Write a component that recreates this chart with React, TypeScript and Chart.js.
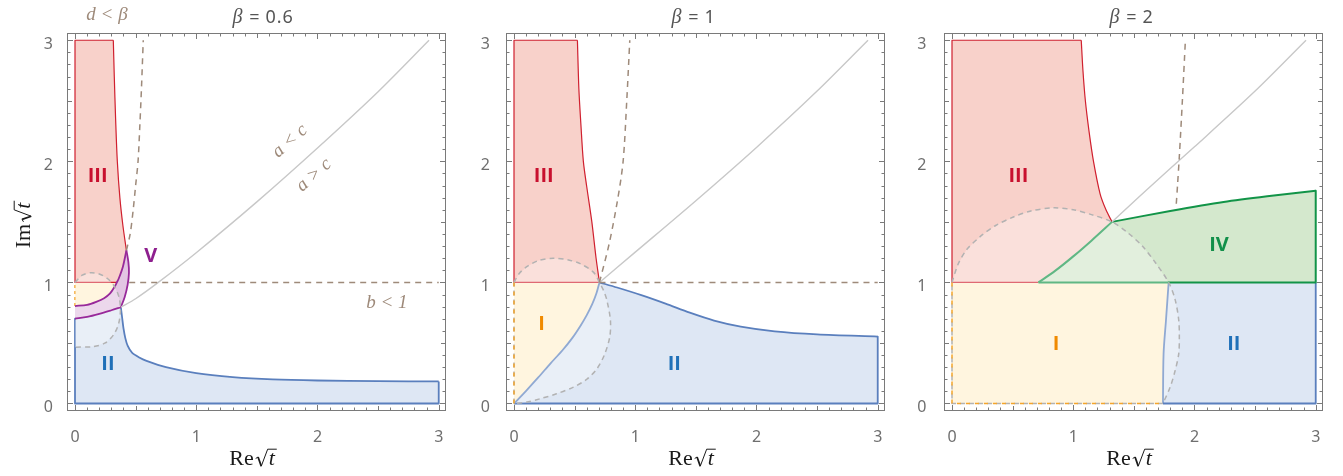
import React, { useEffect, useRef } from 'react';
import { Chart, registerables } from 'chart.js';

Chart.register(...registerables);

type Pt = [number, number];

const PAGE_W = 1343;
const PAGE_H = 476;

// shared axis window (a little padding around 0..3)
const X_MIN = -0.066;
const X_MAX = 3.06;
const Y_MIN = -0.062;
const Y_MAX = 3.06;
const tickValues = [0, 1, 2, 3];
const tickLabels = ['0', '1', '2', '3'];
const betaLabels = ['0.6', '1', '2'];

// ---------- β = 0.6 ----------
const b06IIIEdge: Pt[] = [[0.316, 3], [0.324, 2.7], [0.335, 2.35], [0.349, 2.0], [0.37, 1.7], [0.395, 1.47], [0.424, 1.265]];
const b06VUpper: Pt[] = [[0, 0.805], [0.1, 0.815], [0.175, 0.84], [0.24, 0.87], [0.285, 0.905], [0.33, 0.97], [0.345, 1.0], [0.36, 1.03], [0.395, 1.13], [0.424, 1.265]];
const b06VRight: Pt[] = [[0.378, 0.795], [0.41, 0.88], [0.434, 0.98], [0.445, 1.08], [0.44, 1.17], [0.424, 1.265]];
const b06VLower: Pt[] = [[0, 0.7], [0.1, 0.715], [0.2, 0.74], [0.3, 0.77], [0.378, 0.795]];
const b06IIEdge: Pt[] = [[0.378, 0.795], [0.39, 0.7], [0.4, 0.62], [0.415, 0.54], [0.435, 0.475], [0.47, 0.42], [0.53, 0.38], [0.59, 0.352], [0.75, 0.3], [1.0, 0.25], [1.3, 0.218], [1.63, 0.199], [2.0, 0.19], [2.5, 0.185], [3.0, 0.182]];
const b06Circle: Pt[] = [[0, 1.0], [0.06, 1.06], [0.13, 1.08], [0.2, 1.07], [0.27, 1.03], [0.33, 0.96], [0.365, 0.87], [0.375, 0.77], [0.36, 0.66], [0.32, 0.57], [0.25, 0.5], [0.15, 0.47], [0, 0.465]];
const b06EqualAC: Pt[] = [[0.378, 0.795], [0.5, 0.865], [0.687, 1.0], [1.0, 1.245], [1.5, 1.665], [2.0, 2.11], [2.5, 2.575], [2.92, 3.0]];
const b06DBeta: Pt[] = [[0.424, 1.265], [0.455, 1.4], [0.48, 1.6], [0.5, 1.8], [0.52, 2.0], [0.535, 2.3], [0.548, 2.6], [0.563, 3.0]];
const b06BOne: Pt[] = [[0.447, 1], [3, 1]];

// ---------- β = 1 ----------
const b1IIIEdge: Pt[] = [[0.523, 3], [0.535, 2.6], [0.552, 2.3], [0.572, 2.0], [0.6, 1.79], [0.642, 1.5], [0.677, 1.2], [0.705, 1.0]];
const b1IEdge: Pt[] = [[0, 0], [0.1, 0.105], [0.2, 0.215], [0.3, 0.33], [0.4, 0.44], [0.48, 0.54], [0.55, 0.645], [0.6, 0.73], [0.645, 0.82], [0.68, 0.91], [0.705, 1.0]];
const b1IIEdge: Pt[] = [[0.705, 1.0], [0.85, 0.958], [1.05, 0.895], [1.25, 0.825], [1.45, 0.75], [1.65, 0.685], [1.87, 0.635], [2.15, 0.596], [2.5, 0.571], [3.0, 0.553]];
const b1Circle: Pt[] = [[0, 1.0], [0.04, 1.07], [0.105, 1.13], [0.2, 1.18], [0.325, 1.2], [0.45, 1.185], [0.545, 1.155], [0.655, 1.085], [0.705, 1.0], [0.74, 0.93], [0.766, 0.853], [0.795, 0.69], [0.79, 0.55], [0.745, 0.4], [0.683, 0.285], [0.6, 0.2], [0.49, 0.135], [0.35, 0.08], [0.215, 0.039], [0.1, 0.01], [0, 0]];
const b1EqualAC: Pt[] = [[0.705, 1.0], [1.0, 1.25], [1.5, 1.675], [2.0, 2.115], [2.5, 2.58], [2.92, 3.0]];
const b1DBeta: Pt[] = [[0.705, 1.0], [0.785, 1.32], [0.854, 1.68], [0.9, 2.0], [0.93, 2.5], [0.955, 3.0]];
const b1BOne: Pt[] = [[0.705, 1], [3, 1]];

// ---------- β = 2 ----------
const b2IIIEdge: Pt[] = [[1.066, 3], [1.08, 2.75], [1.1, 2.5], [1.13, 2.25], [1.167, 2.0], [1.222, 1.73], [1.27, 1.6], [1.32, 1.5]];
const b2IVLower: Pt[] = [[0.713, 1.0], [0.85, 1.095], [1.0, 1.215], [1.15, 1.345], [1.32, 1.5]];
const b2IVUpper: Pt[] = [[1.32, 1.5], [1.8, 1.59], [2.24, 1.665], [2.6, 1.712], [3.0, 1.757]];
const b2IIEdge: Pt[] = [[1.787, 1.0], [1.765, 0.69], [1.745, 0.41], [1.74, 0]];
const b2Circle: Pt[] = [[0, 1.0], [0.05, 1.15], [0.12, 1.27], [0.23, 1.376], [0.36, 1.47], [0.506, 1.54], [0.65, 1.59], [0.837, 1.616], [1.0, 1.6], [1.15, 1.56], [1.32, 1.5], [1.45, 1.41], [1.57, 1.3], [1.68, 1.16], [1.787, 1.0], [1.84, 0.86], [1.87, 0.69], [1.875, 0.55], [1.87, 0.41], [1.84, 0.27], [1.8, 0.137], [1.74, 0]];
const b2EqualAC: Pt[] = [[1.32, 1.5], [1.6, 1.76], [2.0, 2.12], [2.5, 2.58], [2.92, 3.0]];
const b2DBeta: Pt[] = [[1.85, 1.65], [1.86, 1.8], [1.875, 2.04], [1.9, 2.5], [1.925, 3.0]];

// ---------- styling ----------
const RED_FILL = '#f8d1ca';
const RED_LINE = '#d0202f';
const BLUE_FILL = '#dee7f4';
const BLUE_LINE = '#5a7fbd';
const YELLOW_FILL = '#fff1d0';
const ORANGE_LINE = '#f4a52b';
const GREEN_FILL = '#d4e8cd';
const GREEN_LINE = '#129448';
const PURPLE_FILL = 'rgba(150, 40, 150, 0.27)';
const PURPLE_LINE = '#98299a';
const HALO_FILL = 'rgba(255, 255, 255, 0.33)';
const HALO_LINE = '#b2b2b2';
const BROWN = '#9e8a7a';
const EQUAL_LINE = '#c8c8c8';
const AXIS_GRAY = '#7a7a7a';
const LABEL_GRAY = '#6f6f6f';

const rev = (a: Pt[]): Pt[] => [...a].reverse();
const close = (a: Pt[]): Pt[] => [...a, a[0]];
const atOrAbove1 = (a: Pt[]) => a.filter((p) => p[1] >= 1);
const atOrBelow1 = (a: Pt[]) => a.filter((p) => p[1] <= 1);

interface Layer {
  pts: Pt[];
  fill?: string;
  color?: string;
  width?: number;
  dash?: number[];
  dashOffset?: number;
  smooth?: boolean;
}

interface TextMark {
  text: string;
  x: number;
  y: number;
  color: string;
  font: string;
  angle?: number;
  caps?: number;
}

interface PanelSpec {
  left: number;
  right: number;
  beta: string;
  yLabelGap: number;
  showYTitle: boolean;
  layers: Layer[];
  marks: TextMark[];
}

const ROMAN = (size: number) => `bold ${size}px "Open Sans", "Liberation Sans", sans-serif`;
const ITALIC_SERIF = 'italic 19px "Liberation Serif", serif';

const dashed = { dash: [6, 5], width: 1.5 };
const haloDash = { dash: [5, 4], width: 1.5 };

const panel06: PanelSpec = {
  left: 67,
  right: 446,
  beta: betaLabels[0],
  yLabelGap: 14,
  showYTitle: true,
  layers: [
    { pts: close([[0, 1], [0, 3], ...b06IIIEdge, ...rev(atOrAbove1(b06VUpper)).slice(1)]), fill: RED_FILL },
    { pts: close([[0, 1], ...rev(atOrBelow1(b06VUpper))]), fill: YELLOW_FILL },
    { pts: close([[0, 0], [3, 0], ...rev(b06IIEdge), ...rev(b06VLower).slice(1)]), fill: BLUE_FILL },
    { pts: [[0, 0.805], [0, 1]], color: ORANGE_LINE, width: 1.5, dash: [3, 3] },
    { pts: [[0.345, 1], [0, 1], [0, 3], b06IIIEdge[0]], color: RED_LINE, width: 1.2 },
    { pts: b06IIIEdge, color: RED_LINE, width: 1.2, smooth: true },
    { pts: [[0, 0.7], [0, 0], [3, 0], [3, 0.182]], color: BLUE_LINE, width: 1.8 },
    { pts: b06IIEdge, color: BLUE_LINE, width: 1.8, smooth: true },
    { pts: close([...b06VLower, ...b06VRight.slice(1), ...rev(b06VUpper).slice(1)]), fill: PURPLE_FILL },
    { pts: close(b06Circle), fill: HALO_FILL },
    { pts: b06VLower, color: PURPLE_LINE, width: 1.8, smooth: true },
    { pts: b06VRight, color: PURPLE_LINE, width: 1.8, smooth: true },
    { pts: b06VUpper, color: PURPLE_LINE, width: 1.8, smooth: true },
    { pts: b06Circle, color: HALO_LINE, ...haloDash, smooth: true },
    { pts: b06EqualAC, color: EQUAL_LINE, width: 1.4, smooth: true },
    { pts: b06DBeta, color: BROWN, ...dashed, smooth: true },
    { pts: b06BOne, color: BROWN, ...dashed },
  ],
  marks: [
    { text: 'III', x: 0.187, y: 1.887, color: '#c8102e', font: ROMAN(20), caps: 20 },
    { text: 'V', x: 0.624, y: 1.231, color: '#8e1f8e', font: ROMAN(20), caps: 20 },
    { text: 'II', x: 0.272, y: 0.336, color: '#1f70b8', font: ROMAN(20), caps: 20 },
    { text: 'a < c', x: 1.773, y: 2.168, color: BROWN, font: ITALIC_SERIF, angle: -42 },
    { text: 'a > c', x: 1.971, y: 1.887, color: BROWN, font: ITALIC_SERIF, angle: -42 },
    { text: 'b < 1', x: 2.573, y: 0.83, color: BROWN, font: ITALIC_SERIF },
    { text: 'd < β', x: 0.264, y: 3.209, color: BROWN, font: ITALIC_SERIF },
  ],
};

const panel1: PanelSpec = {
  left: 506,
  right: 885,
  beta: betaLabels[1],
  yLabelGap: 16,
  showYTitle: false,
  layers: [
    { pts: close([[0, 1], [0, 3], ...b1IIIEdge]), fill: RED_FILL },
    { pts: close([[0, 1], ...rev(b1IEdge)]), fill: YELLOW_FILL },
    { pts: close([...b1IEdge, ...b1IIEdge.slice(1), [3, 0]]), fill: BLUE_FILL },
    { pts: [[0.705, 1], [0, 1], [0, 3], b1IIIEdge[0]], color: RED_LINE, width: 1.2 },
    { pts: b1IIIEdge, color: RED_LINE, width: 1.2, smooth: true },
    { pts: [[3, 0.553], [3, 0], [0, 0]], color: BLUE_LINE, width: 1.8 },
    { pts: b1IEdge, color: BLUE_LINE, width: 1.8, smooth: true },
    { pts: b1IIEdge, color: BLUE_LINE, width: 1.8, smooth: true },
    { pts: close(b1Circle), fill: HALO_FILL },
    { pts: b1Circle, color: HALO_LINE, ...haloDash, smooth: true },
    { pts: [[0, 0], [0, 1]], color: HALO_LINE, ...haloDash },
    { pts: [[0, 0], [0, 1]], color: ORANGE_LINE, width: 1.5, dash: [4, 5], dashOffset: 0 },
    { pts: b1EqualAC, color: EQUAL_LINE, width: 1.4, smooth: true },
    { pts: b1DBeta, color: BROWN, ...dashed, smooth: true },
    { pts: b1BOne, color: BROWN, ...dashed },
  ],
  marks: [
    { text: 'III', x: 0.245, y: 1.887, color: '#c8102e', font: ROMAN(20), caps: 20 },
    { text: 'I', x: 0.228, y: 0.662, color: '#f08a00', font: ROMAN(20), caps: 20 },
    { text: 'II', x: 1.322, y: 0.336, color: '#1f70b8', font: ROMAN(20), caps: 20 },
  ],
};

const panel2: PanelSpec = {
  left: 944,
  right: 1323,
  beta: betaLabels[2],
  yLabelGap: 17.5,
  showYTitle: false,
  layers: [
    { pts: close([[0, 1], [0, 3], ...b2IIIEdge, ...rev(b2IVLower).slice(1)]), fill: RED_FILL },
    { pts: close([[0, 0], [0, 1], ...b2IIEdge]), fill: YELLOW_FILL },
    { pts: close([...b2IIEdge, [3, 0], [3, 1]]), fill: BLUE_FILL },
    { pts: close([...b2IVLower, ...b2IVUpper.slice(1), [3, 1]]), fill: GREEN_FILL },
    { pts: [[0.713, 1], [0, 1], [0, 3], b2IIIEdge[0]], color: RED_LINE, width: 1.2 },
    { pts: b2IIIEdge, color: RED_LINE, width: 1.2, smooth: true },
    { pts: [[1.74, 0], [3, 0], [3, 1]], color: BLUE_LINE, width: 1.8 },
    { pts: b2IIEdge, color: BLUE_LINE, width: 1.8, smooth: true },
    { pts: [[3, 1.757], [3, 1], [0.713, 1]], color: GREEN_LINE, width: 2 },
    { pts: b2IVLower, color: GREEN_LINE, width: 2, smooth: true },
    { pts: b2IVUpper, color: GREEN_LINE, width: 2, smooth: true },
    { pts: close([...b2Circle, [0, 0]]), fill: HALO_FILL },
    { pts: b2Circle, color: HALO_LINE, ...haloDash, smooth: true },
    { pts: [[1.74, 0], [0, 0], [0, 1]], color: HALO_LINE, ...haloDash },
    { pts: [[0, 1], [0, 0], [1.74, 0]], color: ORANGE_LINE, width: 1.5, dash: [4, 5], dashOffset: 0 },
    { pts: b2EqualAC, color: EQUAL_LINE, width: 1.4, smooth: true },
    { pts: b2DBeta, color: BROWN, ...dashed, smooth: true },
  ],
  marks: [
    { text: 'III', x: 0.547, y: 1.887, color: '#c8102e', font: ROMAN(20), caps: 20 },
    { text: 'IV', x: 2.202, y: 1.319, color: '#12904a', font: ROMAN(20), caps: 20 },
    { text: 'I', x: 0.859, y: 0.501, color: '#f08a00', font: ROMAN(20), caps: 20 },
    { text: 'II', x: 2.324, y: 0.501, color: '#1f70b8', font: ROMAN(20), caps: 20 },
  ],
};

const panels: PanelSpec[] = [panel06, panel1, panel2];

const FRAME_TOP = 33;
const FRAME_BOTTOM = 411;

function drawSqrtLabel(ctx: CanvasRenderingContext2D, prefix: string, cx: number, base: number, vertical: boolean) {
  ctx.save();
  ctx.translate(cx, base);
  if (vertical) ctx.rotate(-Math.PI / 2);
  const upright = '22px "Liberation Serif", serif';
  const italic = 'italic 22px "Liberation Serif", serif';
  ctx.font = upright;
  const pw = ctx.measureText(prefix).width;
  ctx.font = italic;
  const tw = ctx.measureText('t').width;
  const radW = 12;
  const gap = 2;
  const total = pw + gap + radW + tw + 3;
  let x = -total / 2;
  ctx.fillStyle = '#1a1a1a';
  ctx.strokeStyle = '#1a1a1a';
  ctx.textAlign = 'left';
  ctx.textBaseline = 'alphabetic';
  ctx.font = upright;
  ctx.fillText(prefix, x, 0);
  x += pw + gap;
  ctx.lineJoin = 'miter';
  ctx.lineWidth = 1;
  ctx.beginPath();
  ctx.moveTo(x, -6.5);
  ctx.lineTo(x + 2.4, -8);
  ctx.stroke();
  ctx.lineWidth = 1.8;
  ctx.beginPath();
  ctx.moveTo(x + 2.4, -8);
  ctx.lineTo(x + 5.6, 1.2);
  ctx.stroke();
  ctx.lineWidth = 1;
  ctx.beginPath();
  ctx.moveTo(x + 5.6, 1.2);
  ctx.lineTo(x + radW, -15.8);
  ctx.lineTo(x + radW + tw + 3, -15.8);
  ctx.stroke();
  ctx.font = italic;
  ctx.fillText('t', x + radW + 1, 0);
  ctx.restore();
}

function makeDecor(spec: PanelSpec) {
  return {
    id: 'panelDecor',
    afterDatasetsDraw(chart: any) {
      const ctx: CanvasRenderingContext2D = chart.ctx;
      const xs = chart.scales.x;
      const ys = chart.scales.y;
      ctx.save();
      for (const m of spec.marks) {
        const px = xs.getPixelForValue(m.x);
        const py = ys.getPixelForValue(m.y);
        ctx.save();
        ctx.translate(px, py);
        if (m.angle) ctx.rotate((m.angle * Math.PI) / 180);
        ctx.font = m.font;
        ctx.fillStyle = m.color;
        ctx.textAlign = 'center';
        if (m.caps) {
          ctx.textBaseline = 'alphabetic';
          ctx.fillText(m.text, 0, m.caps * 0.357);
        } else {
          ctx.textBaseline = 'middle';
          ctx.fillText(m.text, 0, 0);
        }
        ctx.restore();
      }
      ctx.restore();
    },
    afterDraw(chart: any) {
      const ctx: CanvasRenderingContext2D = chart.ctx;
      const xs = chart.scales.x;
      const ys = chart.scales.y;
      const { left, right, top, bottom } = chart.chartArea;
      ctx.save();
      // frame
      ctx.strokeStyle = AXIS_GRAY;
      ctx.lineWidth = 1;
      ctx.strokeRect(left + 0.5, top + 0.5, right - left - 1, bottom - top - 1);
      // inward ticks on all four sides
      ctx.beginPath();
      for (let i = 0; i <= 30; i++) {
        const v = i / 10;
        const len = i % 10 === 0 ? 5 : i % 5 === 0 ? 4 : 2.5;
        const px = Math.round(xs.getPixelForValue(v)) + 0.5;
        const py = Math.round(ys.getPixelForValue(v)) + 0.5;
        ctx.moveTo(px, bottom - 1);
        ctx.lineTo(px, bottom - 1 - len);
        ctx.moveTo(px, top + 1);
        ctx.lineTo(px, top + 1 + len);
        ctx.moveTo(left + 1, py);
        ctx.lineTo(left + 1 + len, py);
        ctx.moveTo(right - 1, py);
        ctx.lineTo(right - 1 - len, py);
      }
      ctx.stroke();
      // tick labels
      ctx.fillStyle = LABEL_GRAY;
      ctx.font = '16px "Noto Sans", sans-serif';
      ctx.textBaseline = 'alphabetic';
      tickValues.forEach((v, i) => {
        ctx.textAlign = 'center';
        ctx.fillText(tickLabels[i], xs.getPixelForValue(v), 441.5);
        ctx.textAlign = 'right';
        ctx.fillText(tickLabels[i], left - spec.yLabelGap, ys.getPixelForValue(v) + 8.4);
      });
      // title: β = value
      const eqX = (left + right) / 2 - 2;
      ctx.fillStyle = '#555555';
      ctx.font = 'italic 20px "Liberation Serif", serif';
      ctx.textAlign = 'right';
      ctx.fillText('β', eqX - 12, 22.7);
      ctx.font = '18px "Noto Sans", sans-serif';
      ctx.textAlign = 'center';
      ctx.fillText('=', eqX, 22.7);
      ctx.textAlign = 'left';
      (ctx as any).letterSpacing = '1px';
      ctx.fillText(spec.beta, eqX + 11, 22.7);
      (ctx as any).letterSpacing = '0px';
      // axis titles
      drawSqrtLabel(ctx, 'Re', (left + right) / 2 - 3.5, 465, false);
      if (spec.showYTitle) drawSqrtLabel(ctx, 'Im', 30, 224.5, true);
      ctx.restore();
    },
  };
}

function buildConfig(spec: PanelSpec): any {
  const n = spec.layers.length;
  const datasets = spec.layers.map((l, i) => ({
    data: l.pts.map(([x, y]) => ({ x, y })),
    borderColor: l.color ?? 'rgba(0,0,0,0)',
    borderWidth: l.color ? l.width ?? 1.5 : 0,
    borderDash: l.dash ?? [],
    borderDashOffset: l.dashOffset ?? 0,
    backgroundColor: l.fill ?? 'rgba(0,0,0,0)',
    fill: l.fill ? 'shape' : false,
    tension: l.smooth ? 0.3 : 0,
    pointRadius: 0,
    pointHoverRadius: 0,
    borderCapStyle: 'butt',
    borderJoinStyle: 'round',
    order: n - i,
  }));
  return {
    type: 'line',
    data: { datasets },
    options: {
      animation: false,
      responsive: false,
      devicePixelRatio: 1,
      events: [],
      layout: {
        padding: { left: spec.left, right: PAGE_W - spec.right, top: FRAME_TOP, bottom: PAGE_H - FRAME_BOTTOM },
      },
      scales: {
        x: { type: 'linear', min: X_MIN, max: X_MAX, display: false },
        y: { type: 'linear', min: Y_MIN, max: Y_MAX, display: false },
      },
      plugins: { legend: { display: false }, tooltip: { enabled: false } },
    },
    plugins: [makeDecor(spec)],
  };
}

function Panel({ spec }: { spec: PanelSpec }) {
  const ref = useRef<HTMLCanvasElement>(null);
  useEffect(() => {
    if (!ref.current) return;
    const chart = new Chart(ref.current, buildConfig(spec));
    return () => chart.destroy();
  }, [spec]);
  return (
    <canvas
      ref={ref}
      width={PAGE_W}
      height={PAGE_H}
      style={{ position: 'absolute', left: 0, top: 0, width: PAGE_W, height: PAGE_H }}
    />
  );
}

export default function App() {
  return (
    <div style={{ position: 'absolute', left: 0, top: 0, width: PAGE_W, height: PAGE_H, background: '#ffffff' }}>
      {panels.map((p, i) => (
        <Panel key={i} spec={p} />
      ))}
    </div>
  );
}
